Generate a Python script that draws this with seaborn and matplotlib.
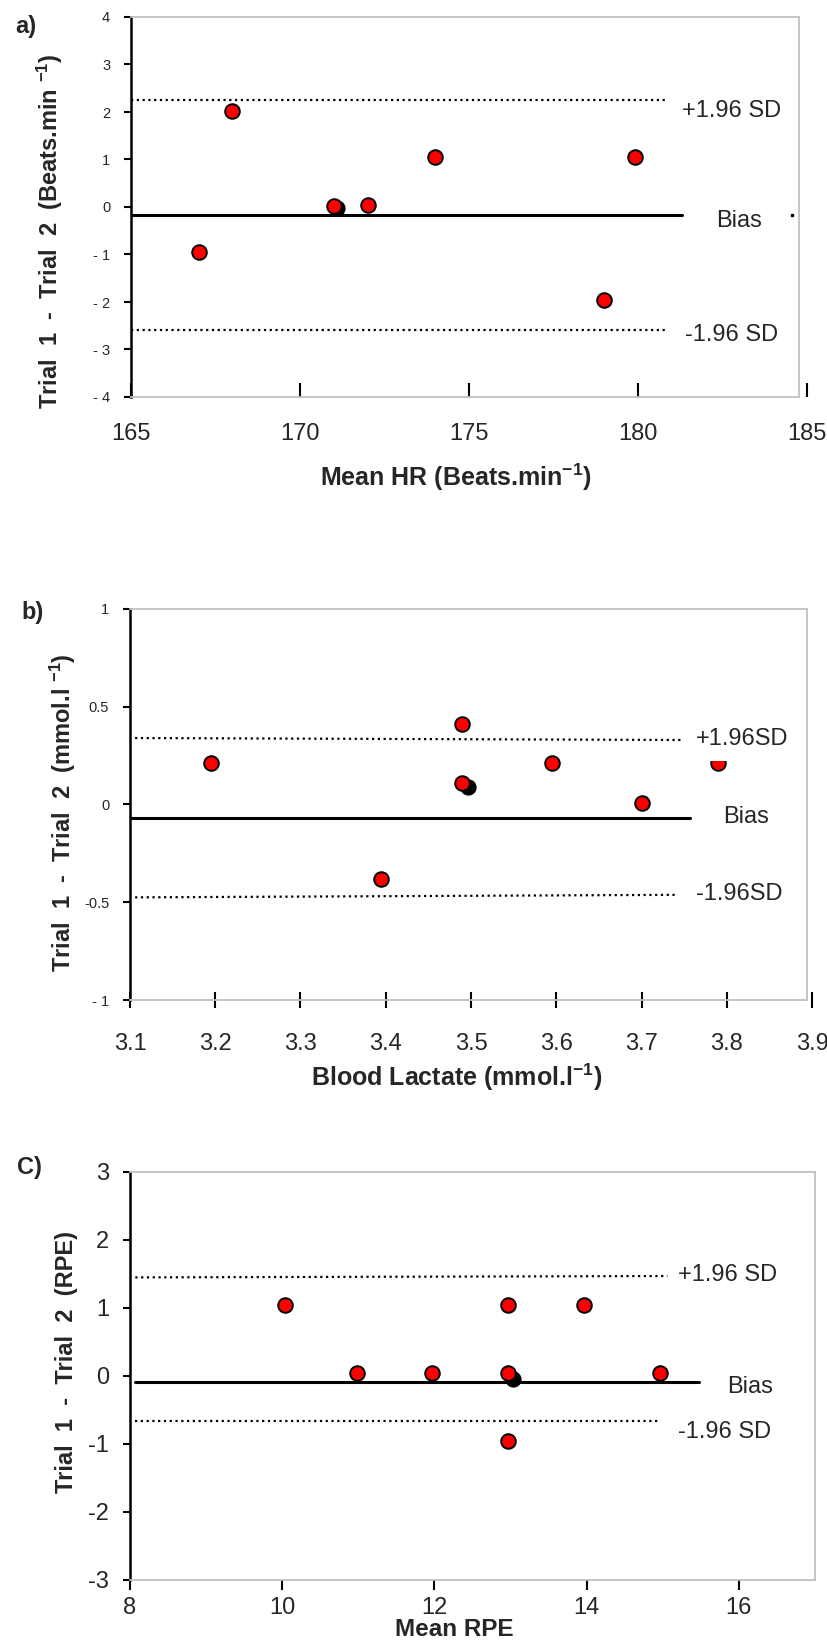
import numpy as np
import pandas as pd
import matplotlib
matplotlib.use('Agg')
import matplotlib.pyplot as plt
import seaborn as sns
from matplotlib import rcParams

# ---- data ----
# a) heart rate
hr_mean = [167.0, 168.0, 171.0, 172.0, 174.0, 179.0, 179.9]
hr_diff = [-0.95, 2.03, 0.03, 0.04, 1.05, -1.95, 1.05]
hr_black = ([171.1], [-0.03])
hr_lines = {'+1.96 SD': ([165, 180.9], [2.25, 2.25]),
            'Bias': ([165, 181.3], [-0.17, -0.17]),
            '-1.96 SD': ([165, 180.9], [-2.58, -2.58])}
hr_text = {'+1.96 SD': (181.3, 2.02), 'Bias': (182.3, -0.30), '-1.96 SD': (181.4, -2.70)}
hr_yticklabels = ['- 4', '- 3', '- 2', '- 1', '0', '1', '2', '3', '4']

# b) blood lactate
la_mean = [3.195, 3.395, 3.49, 3.49, 3.595, 3.70, 3.79]
la_diff = [0.21, -0.38, 0.41, 0.11, 0.21, 0.01, 0.21]
la_black = ([3.497], [0.09])
la_lines = {'+1.96SD': ([3.106, 3.748], [0.34, 0.33]),
            'Bias': ([3.1, 3.757], [-0.07, -0.07]),
            '-1.96SD': ([3.106, 3.742], [-0.475, -0.462])}
la_text = {'+1.96SD': (3.764, 0.335), 'Bias': (3.796, -0.065), '-1.96SD': (3.764, -0.46)}
la_yticklabels = ['- 1', '-0.5', '0', '0.5', '1']

# c) RPE
rpe_mean = [10.03, 10.98, 11.97, 12.97, 12.97, 12.97, 13.97, 14.96]
rpe_diff = [1.05, 0.04, 0.04, 0.04, 1.05, -0.96, 1.05, 0.04]
rpe_black = ([13.03], [-0.04])
rpe_lines = {'+1.96 SD': ([8.07, 15.06], [1.45, 1.47]),
             'Bias': ([8.07, 15.48], [-0.09, -0.09]),
             '-1.96 SD': ([8.07, 14.96], [-0.667, -0.667])}
rpe_text = {'+1.96 SD': (15.2, 1.49), 'Bias': (15.85, -0.16), '-1.96 SD': (15.2, -0.83)}
rpe_yticklabels = ['-3', '-2', '-1', '0', '1', '2', '3']

sns.set_theme(style='white')
rcParams['font.family'] = ['Liberation Sans', 'DejaVu Sans']
rcParams['mathtext.fontset'] = 'custom'
rcParams['mathtext.rm'] = 'Liberation Sans'
rcParams['mathtext.bf'] = 'Liberation Sans:bold'
rcParams['mathtext.default'] = 'bf'

W, H = 827, 1642
fig = plt.figure(figsize=(W / 100, H / 100), dpi=100)
fig.patch.set_facecolor('white')
GRAY = '#c0c0c0'


def px_axes(left, top, right, bottom):
    return fig.add_axes([left / W, 1 - bottom / H, (right - left) / W, (bottom - top) / H])


def panel(ax, xs, ys, black, lines, texts, xlim, border, ylim, xticks, yticks,
          yticklabels, ytick_size, xdir, xlen, xpad, boxed=None):
    ax.set_facecolor('white')
    sns.scatterplot(x=black[0], y=black[1], ax=ax, s=110, color='black',
                    edgecolor='black', linewidth=1.2, zorder=3, legend=False)
    sns.scatterplot(x=xs, y=ys, ax=ax, s=110, color='#ff0000',
                    edgecolor='black', linewidth=1.4, zorder=4, legend=False)
    for name, (lx, ly) in lines.items():
        if name == 'Bias':
            ax.plot(lx, ly, color='black', lw=2.2, zorder=2)
        else:
            ax.plot(lx, ly, color='black', lw=1.6, ls=(0, (1, 1.6)), zorder=2)
    for name, (tx, ty) in texts.items():
        kw = {}
        if boxed is not None and name == boxed:
            kw['bbox'] = dict(facecolor='white', edgecolor='none', pad=8)
        ax.text(tx, ty, name, fontsize=17, ha='left', va='center', zorder=5,
                clip_on=False, **kw)
    ax.set_xlim(*xlim)
    ax.set_ylim(*ylim)
    ax.set_xticks(xticks)
    ax.set_yticks(yticks)
    ax.set_xticklabels([('%g' % t) for t in xticks], fontsize=17)
    ax.set_yticklabels(yticklabels, fontsize=ytick_size)
    ax.set_xlabel('')
    ax.set_ylabel('')
    # plot-area frame: black left axis, light grey box elsewhere
    ax.spines['right'].set_visible(False)
    for s in ['top', 'bottom']:
        ax.spines[s].set_color(GRAY)
        ax.spines[s].set_linewidth(1.3)
        ax.spines[s].set_visible(True)
        ax.spines[s].set_bounds(xlim[0], border)
    ax.plot([border, border], ylim, color=GRAY, lw=1.3, clip_on=False, zorder=1)
    ax.spines['left'].set_color('black')
    ax.spines['left'].set_linewidth(1.8)
    ax.spines['left'].set_visible(True)
    ax.tick_params(axis='y', direction='out', length=5, width=1.5, color='black',
                   pad=10, left=True)
    ax.tick_params(axis='x', direction=xdir, length=xlen, width=1.5, color='black',
                   pad=xpad, bottom=True)
    ax.grid(False)


ax_a = px_axes(131, 17, 807, 397)
panel(ax_a, hr_mean, hr_diff, hr_black, hr_lines, hr_text,
      (165, 185), 184.76, (-4, 4), [165, 170, 175, 180, 185], list(range(-4, 5)),
      hr_yticklabels, 10.5, 'in', 10, 18.5)
ax_a.plot([184.55], [-0.17], marker='s', ms=1.5, color='black', clip_on=False)

ax_b = px_axes(130, 609, 812, 1000)
panel(ax_b, la_mean, la_diff, la_black, la_lines, la_text,
      (3.1, 3.9), 3.894, (-1, 1), [3.1, 3.2, 3.3, 3.4, 3.5, 3.6, 3.7, 3.8, 3.9],
      [-1, -0.5, 0, 0.5, 1], la_yticklabels, 10.5, 'inout', 11, 18, boxed='+1.96SD')

ax_c = px_axes(130, 1172, 815, 1580)
panel(ax_c, rpe_mean, rpe_diff, rpe_black, rpe_lines, rpe_text,
      (8, 17), 17, (-3, 3), [8, 10, 12, 14, 16], list(range(-3, 4)),
      rpe_yticklabels, 17, 'out', 7, 5)

# axis titles and panel letters
fig.text(50 / W, 1 - 231 / H, r'Trial  1  -  Trial  2  (Beats.min $^{-1}$)', rotation=90,
         ha='center', va='center', fontsize=17, fontweight='bold')
fig.text(456 / W, 1 - 477 / H, r'Mean HR (Beats.min$^{-1}$)',
         ha='center', va='center', fontsize=18, fontweight='bold')
fig.text(63 / W, 1 - 813 / H, r'Trial  1  -  Trial  2  (mmol.l $^{-1}$)', rotation=90,
         ha='center', va='center', fontsize=17, fontweight='bold')
fig.text(457 / W, 1 - 1077 / H, r'Blood Lactate (mmol.l$^{-1}$)',
         ha='center', va='center', fontsize=18, fontweight='bold')
fig.text(67 / W, 1 - 1362 / H, 'Trial  1  -  Trial  2  (RPE)', rotation=90,
         ha='center', va='center', fontsize=17, fontweight='bold')
fig.text(454 / W, 1 - 1629 / H, 'Mean RPE',
         ha='center', va='center', fontsize=17.5, fontweight='bold')

fig.text(26 / W, 1 - 26 / H, 'a)', ha='center', va='center', fontsize=17, fontweight='bold')
fig.text(33 / W, 1 - 612 / H, 'b)', ha='center', va='center', fontsize=17, fontweight='bold')
fig.text(29 / W, 1 - 1167 / H, 'C)', ha='center', va='center', fontsize=17, fontweight='bold')

fig.savefig('out.png', dpi=100, facecolor='white')
